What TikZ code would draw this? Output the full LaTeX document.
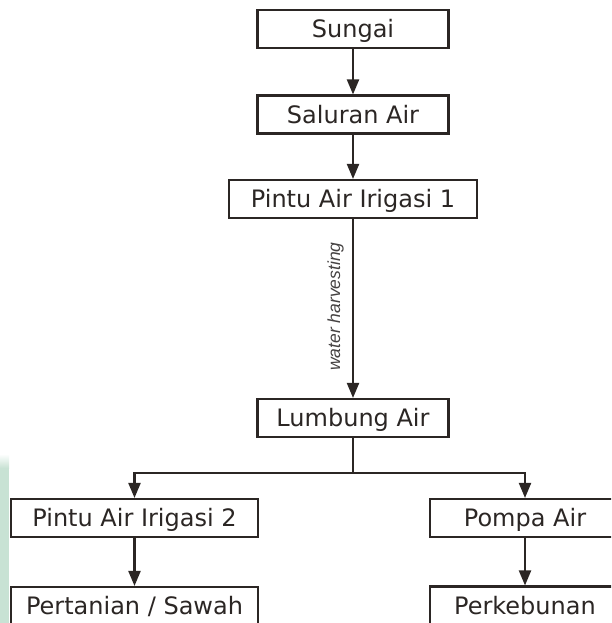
\documentclass[tikz,border=0pt]{standalone}
\usepackage{fontspec}
\setmainfont{Liberation Sans}
\newfontfamily\boxfont{DejaVu Sans}
\usetikzlibrary{arrows.meta}
\definecolor{ink}{HTML}{2B2624}
\definecolor{lbl}{HTML}{454242}
\definecolor{mint}{HTML}{C8E2D4}
\begin{document}
\begin{tikzpicture}[x=1pt,y=-1pt,
  box/.style={draw=ink, line width=2.1pt, text=ink,
    font=\boxfont\fontsize{24}{29}\selectfont, minimum height=38pt,
    text height=17.5pt, text depth=0pt, inner sep=0pt, anchor=center},
  arr/.style={draw=ink, line width=2.1pt, -{Triangle[length=15pt,width=12pt]}},
  plain/.style={draw=ink, line width=2.1pt},
  wlabel/.style={text=lbl, font=\fontsize{17.5}{20}\selectfont\itshape, inner sep=0pt}
]
\useasboundingbox (0,0) rectangle (611,623);
\clip (0,0) rectangle (611,623);
% green strip on the left edge
\fill[mint] (0,468) rectangle (9,623);
\shade[top color=white, bottom color=mint] (0,454) rectangle (9,468);

\node[box, minimum width=191pt] (sungai)   at (353,29)    {Sungai};
\node[box, minimum width=191pt] (saluran)  at (353,114.5) {Saluran Air};
\node[box, minimum width=248pt] (pintu1)   at (353,199)   {Pintu Air Irigasi 1};
\node[box, minimum width=191pt] (lumbung)  at (353,418)   {Lumbung Air};
\node[box, minimum width=247pt] (pintu2)   at (134.5,518) {Pintu Air Irigasi 2};
\node[box, minimum width=247pt] (sawah)    at (134.5,606) {Pertanian / Sawah};
\node[box, minimum width=190pt] (pompa)    at (525,518)   {Pompa Air};
\node[box, minimum width=190pt] (kebun)    at (525,605.5) {Perkebunan};

\draw[arr] (sungai.south) -- (saluran.north);
\draw[arr] (saluran.south) -- (pintu1.north);
\draw[arr] (pintu1.south) -- (lumbung.north);
\node[wlabel, rotate=90] (wh) at (335.5,306.5) {water harvesting};

\coordinate (split) at (353,473);
\draw[plain] (lumbung.south) -- (split);
\draw[arr] (split) -| (pintu2.north);
\draw[arr] (split) -| (pompa.north);
\draw[arr] (pintu2.south) -- (sawah.north);
\draw[arr] (pompa.south) -- (kebun.north);
\end{tikzpicture}
\end{document}
